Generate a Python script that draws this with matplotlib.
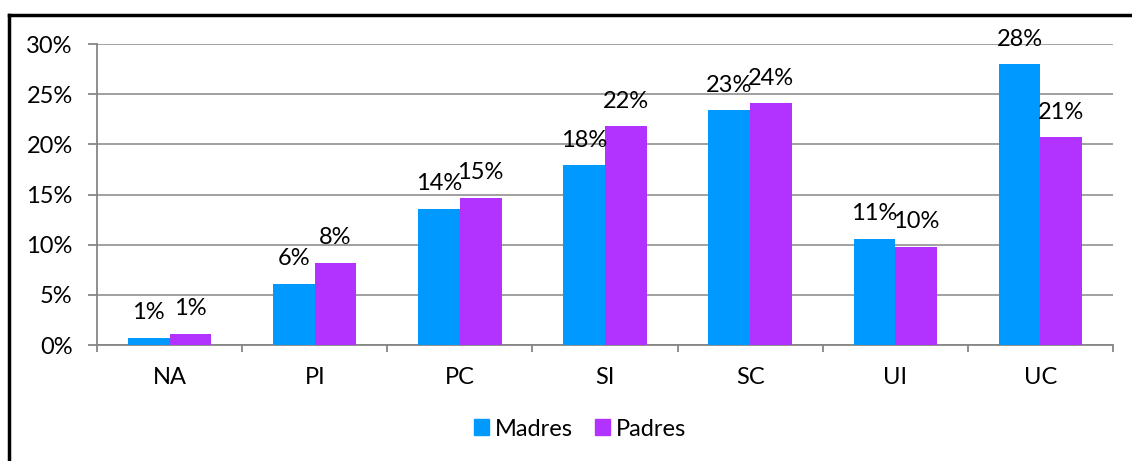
import numpy as np
import matplotlib.pyplot as plt
from matplotlib.lines import Line2D
from matplotlib.patches import Patch
from matplotlib.ticker import PercentFormatter

categories = ["NA", "PI", "PC", "SI", "SC", "UI", "UC"]
madres = [0.7, 6.1, 13.6, 17.9, 23.4, 10.6, 28.0]
padres = [1.1, 8.2, 14.7, 21.8, 24.1, 9.8, 20.7]
series_names = ["Madres", "Padres"]
colors = ["#0099ff", "#b233ff"]

plt.rcParams['font.family'] = ['Lato', 'DejaVu Sans']
fs = 17

fig = plt.figure(figsize=(11.32, 4.61), dpi=100)
ax = fig.add_axes([97 / 1132, 1 - 345 / 461, (1113 - 97) / 1132, (345 - 44) / 461])

x = np.arange(len(categories))
w = 0.287
for i, (vals, name) in enumerate(zip([madres, padres], series_names)):
	pos = x + (i - 0.5) * w
	ax.bar(pos, vals, width=w, color=colors[i], label=name, zorder=3)
	for px, v in zip(pos, vals):
		ax.annotate("%d%%" % round(v), (px, v), xytext=(0, 18), textcoords="offset points",
			ha="center", va="center", fontsize=fs, zorder=4)

ax.set_xlim(-0.5, len(categories) - 0.5)
ax.set_ylim(0, 30)
ax.set_yticks(np.arange(0, 31, 5))
ax.yaxis.set_major_formatter(PercentFormatter(decimals=0))
ax.set_xticks(x)
ax.set_xticklabels(categories)
ax.set_xticks(np.arange(-0.5, len(categories)), minor=True)

grey = "#868686"
ax.grid(axis="y", color=grey, linewidth=1.1, zorder=0)
for s in ["top", "right"]:
	ax.spines[s].set_visible(False)
for s in ["left", "bottom"]:
	ax.spines[s].set_color(grey)
	ax.spines[s].set_linewidth(1.3)
ax.tick_params(axis="y", length=6.5, width=1.3, color=grey, labelsize=fs, pad=11)
ax.tick_params(axis="x", which="major", length=0, labelsize=fs, pad=16)
ax.tick_params(axis="x", which="minor", length=5, width=1.3, color=grey)

handles = [Patch(color=c, label=n) for c, n in zip(colors, series_names)]
fig.legend(handles=handles, loc="center", bbox_to_anchor=(580 / 1132, 1 - 429 / 461), ncol=2,
	frameon=False, fontsize=fs, handlelength=0.65, handleheight=0.65,
	handletextpad=0.25, columnspacing=0.9)

# frame border (top and left visible)
fig.add_artist(Line2D([9 / 1132, 1], [1 - 15 / 461, 1 - 15 / 461], color="black", linewidth=2.5))
fig.add_artist(Line2D([9 / 1132, 9 / 1132], [0, 1 - 15 / 461], color="black", linewidth=2.5))

fig.savefig("out.png", dpi=100, facecolor="white")
